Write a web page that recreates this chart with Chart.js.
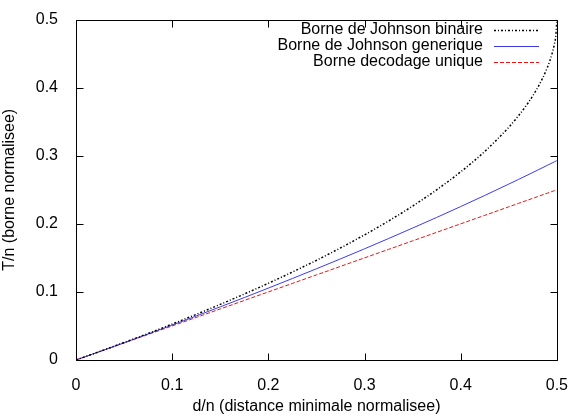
<!DOCTYPE html>
<html>
<head>
<meta charset="utf-8">
<script src="https://cdn.jsdelivr.net/npm/chart.js@4/dist/chart.umd.min.js"></script>
<style>
  html, body { margin: 0; padding: 0; background: #fff; }
  #wrap { width: 576px; height: 416px; }
</style>
</head>
<body>
<div id="wrap"><canvas id="c" width="576" height="416"></canvas></div>
<script>
// d/n values (denser near 0.5 where the binary bound climbs)
const dn = [0, 0.025, 0.05, 0.075, 0.1, 0.125, 0.15, 0.175, 0.2, 0.225, 0.25, 0.275,
  0.3, 0.325, 0.35, 0.375, 0.4, 0.425, 0.45, 0.46, 0.47, 0.48, 0.49, 0.495, 0.4975, 0.499, 0.5];

// T/n
const johnsonBinaire = [0, 0.0127, 0.0257, 0.039, 0.0528, 0.067, 0.0817, 0.0969, 0.1127, 0.1292,
  0.1464, 0.1646, 0.1838, 0.2042, 0.2261, 0.25, 0.2764, 0.3064, 0.3419, 0.3586, 0.3775, 0.4,
  0.4293, 0.45, 0.4646, 0.4776, 0.5];
const johnsonGenerique = [0, 0.0126, 0.0253, 0.0382, 0.0513, 0.0646, 0.0781, 0.0917, 0.1056, 0.1197,
  0.134, 0.1485, 0.1633, 0.1784, 0.1938, 0.2094, 0.2254, 0.2417, 0.2584, 0.2652, 0.272, 0.2789,
  0.2859, 0.2894, 0.2911, 0.2922, 0.2929];
const decodageUnique = [0, 0.0125, 0.025, 0.0375, 0.05, 0.0625, 0.075, 0.0875, 0.1, 0.1125,
  0.125, 0.1375, 0.15, 0.1625, 0.175, 0.1875, 0.2, 0.2125, 0.225, 0.23, 0.235, 0.24,
  0.245, 0.2475, 0.24875, 0.2495, 0.25];

const xTicks = [0, 0.1, 0.2, 0.3, 0.4, 0.5];
const yTicks = [0, 0.1, 0.2, 0.3, 0.4, 0.5];

const FONT = '"Liberation Sans", Arial, sans-serif';
const FSIZE = 16;

const pts = (ys) => dn.map((x, i) => ({ x: x, y: ys[i] }));

// gnuplot-style frame, inward ticks on all sides and the key
const framePlugin = {
  id: 'gpframe',
  afterDraw(chart) {
    const ctx = chart.ctx;
    const sx = chart.scales.x, sy = chart.scales.y;
    const L = Math.round(sx.getPixelForValue(0)) + 0.5;
    const R = Math.round(sx.getPixelForValue(0.5)) + 0.5;
    const B = Math.round(sy.getPixelForValue(0)) + 0.5;
    const T = Math.round(sy.getPixelForValue(0.5)) + 0.5;
    const t = 7;
    ctx.save();
    ctx.setLineDash([]);
    ctx.strokeStyle = '#000000';
    ctx.lineWidth = 1;
    ctx.beginPath();
    ctx.moveTo(L, T); ctx.lineTo(R, T); ctx.lineTo(R, B); ctx.lineTo(L, B); ctx.closePath();
    xTicks.forEach(v => {
      const x = Math.round(sx.getPixelForValue(v)) + 0.5;
      ctx.moveTo(x, B); ctx.lineTo(x, B - t);
      ctx.moveTo(x, T); ctx.lineTo(x, T + t);
    });
    yTicks.forEach(v => {
      const y = Math.round(sy.getPixelForValue(v)) + 0.5;
      ctx.moveTo(L, y); ctx.lineTo(L + t, y);
      ctx.moveTo(R, y); ctx.lineTo(R - t, y);
    });
    ctx.stroke();

    // key
    ctx.font = FSIZE + 'px ' + FONT;
    ctx.textAlign = 'right';
    ctx.textBaseline = 'middle';
    chart.data.datasets.forEach((ds, i) => {
      const y = 30 + i * 16;
      ctx.fillStyle = '#000';
      ctx.fillText(ds.label, 483, y);
      ctx.strokeStyle = ds.borderColor;
      ctx.lineWidth = ds.borderWidth;
      ctx.setLineDash(ds.borderDash || []);
      ctx.beginPath();
      ctx.moveTo(494, y + 0.5);
      ctx.lineTo(539, y + 0.5);
      ctx.stroke();
      ctx.setLineDash([]);
    });
    ctx.restore();
  }
};

new Chart(document.getElementById('c'), {
  type: 'scatter',
  data: {
    datasets: [
      {
        label: 'Borne de Johnson binaire',
        data: pts(johnsonBinaire),
        borderColor: '#000000',
        borderWidth: 1.5,
        borderDash: [2, 2, 1, 2],
        showLine: true,
        pointRadius: 0,
      },
      {
        label: 'Borne de Johnson generique',
        data: pts(johnsonGenerique),
        borderColor: '#3a3af0',
        borderWidth: 1,
        showLine: true,
        pointRadius: 0,
      },
      {
        label: 'Borne decodage unique',
        data: pts(decodageUnique),
        borderColor: '#f01010',
        borderWidth: 1,
        borderDash: [4, 2],
        showLine: true,
        pointRadius: 0,
      },
    ],
  },
  options: {
    responsive: false,
    animation: false,
    cubicInterpolationMode: 'monotone',
    layout: { padding: { top: 16, right: 17, left: 0, bottom: 0 } },
    plugins: {
      legend: { display: false },
      tooltip: { enabled: false },
    },
    scales: {
      x: {
        type: 'linear',
        min: 0,
        max: 0.5,
        afterBuildTicks: (s) => { s.ticks = xTicks.map(v => ({ value: v })); },
        afterFit: (s) => { s.height = 56; },
        grid: { display: false },
        border: { display: false },
        ticks: {
          color: '#000',
          font: { family: FONT, size: FSIZE },
          padding: 8,
          maxRotation: 0,
          callback: (v) => String(v),
        },
        title: {
          display: true,
          text: 'd/n (distance minimale normalisee)',
          color: '#000',
          font: { family: FONT, size: FSIZE },
          padding: { top: 0, bottom: 0 },
        },
      },
      y: {
        type: 'linear',
        min: 0,
        max: 0.5,
        afterBuildTicks: (s) => { s.ticks = yTicks.map(v => ({ value: v })); },
        afterFit: (s) => { s.width = 76; },
        grid: { display: false },
        border: { display: false },
        ticks: {
          color: '#000',
          font: { family: FONT, size: FSIZE },
          padding: 10,
          callback: (v) => String(v),
        },
        title: {
          display: true,
          text: 'T/n (borne normalisee)',
          color: '#000',
          font: { family: FONT, size: FSIZE },
          padding: { top: 0, bottom: 8 },
        },
      },
    },
  },
  plugins: [framePlugin],
});
</script>
</body>
</html>
